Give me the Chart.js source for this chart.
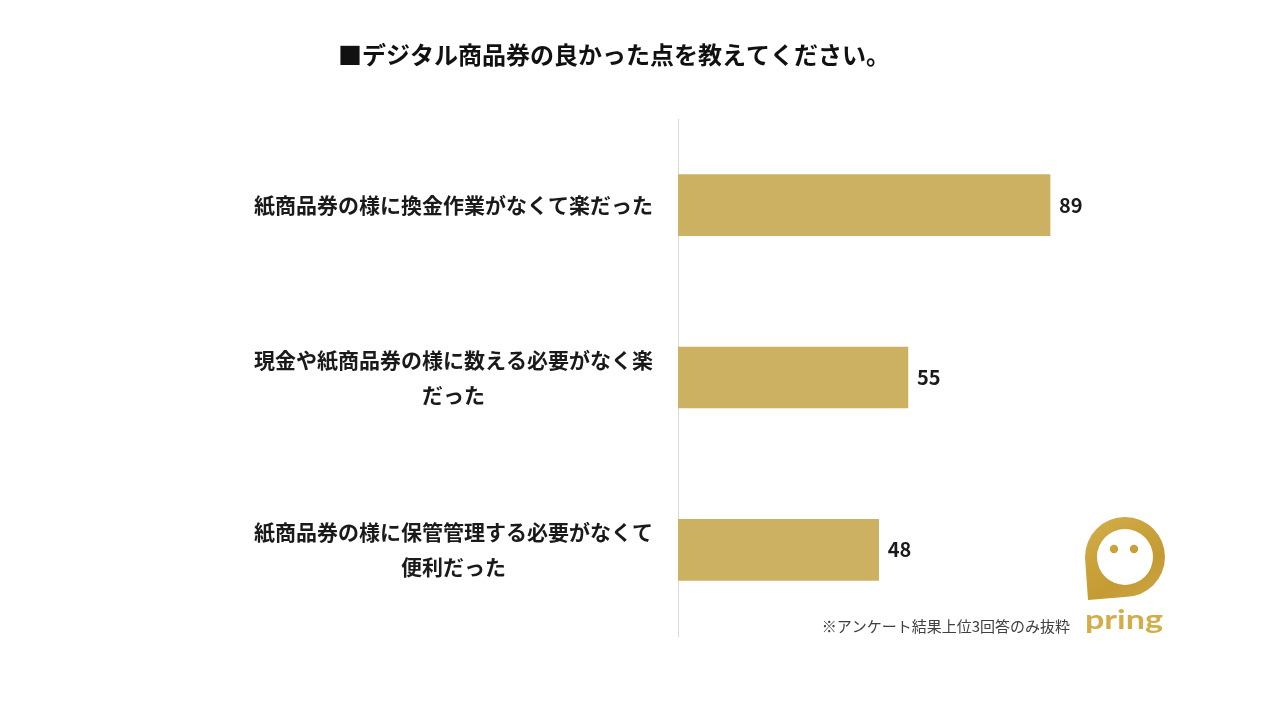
<!DOCTYPE html>
<html>
<head>
<meta charset="utf-8">
<script src="https://cdn.jsdelivr.net/npm/chart.js@4/dist/chart.umd.min.js"></script>
<style>
  html, body { margin: 0; padding: 0; background: #fff; }
  #wrap { width: 1280px; height: 720px; position: relative; }
</style>
</head>
<body>
<div id="wrap"><canvas id="barChart" width="1280" height="720"></canvas></div>
<script>
const chartTitle = '■デジタル商品券の良かった点を教えてください。';
const footNote = '※アンケート結果上位3回答のみ抜粋';
const categories = [
    ['紙商品券の様に換金作業がなくて楽だった'],
    ['現金や紙商品券の様に数える必要がなく楽', 'だった'],
    ['紙商品券の様に保管管理する必要がなくて', '便利だった']
];
const counts = [89, 55, 48];

const JP_FONT = '"Noto Sans CJK JP", "Noto Sans", sans-serif';
const GOLD = '#CCB162';

// title, footnote, value labels and the pring logo
const decorPlugin = {
    id: 'decor',
    afterDatasetsDraw(chart) {
        const ctx = chart.ctx;
        ctx.save();

        // value labels at bar ends
        const meta = chart.getDatasetMeta(0);
        ctx.font = `bold 20px ${JP_FONT}`;
        ctx.fillStyle = '#1a1a1a';
        ctx.textAlign = 'left';
        ctx.textBaseline = 'middle';
        meta.data.forEach((bar, i) => {
            ctx.fillText(String(counts[i]), bar.x + 9, bar.y);
        });

        // title
        ctx.font = `bold 24px ${JP_FONT}`;
        ctx.fillStyle = '#111';
        ctx.textAlign = 'center';
        ctx.fillText(chartTitle, 614, 55);

        // footnote
        ctx.font = `15px ${JP_FONT}`;
        ctx.fillStyle = '#404040';
        ctx.textAlign = 'right';
        ctx.fillText(footNote, 1070, 626);

        this.drawLogo(ctx);
        ctx.restore();
    },
    drawLogo(ctx) {
        const cx = 1125, cy = 557, r = 40, ri = 28;
        const grad = ctx.createLinearGradient(1085, 517, 1165, 640);
        grad.addColorStop(0, '#D2AE4A');
        grad.addColorStop(0.5, '#C49A33');
        grad.addColorStop(1, '#D6B55A');

        // bubble: circle with square bottom-left corner
        ctx.beginPath();
        ctx.moveTo(cx - r, cy);
        ctx.arc(cx, cy, r, Math.PI, Math.PI / 2, false);
        ctx.lineTo(cx - r + 3, cy + r + 3);
        ctx.closePath();
        ctx.moveTo(cx + ri, cy);
        ctx.arc(cx, cy, ri, 0, Math.PI * 2, true);
        ctx.fillStyle = grad;
        ctx.fill('evenodd');

        // eyes
        ctx.beginPath();
        ctx.arc(1114, 549, 4.2, 0, Math.PI * 2);
        ctx.arc(1134, 549, 4.2, 0, Math.PI * 2);
        ctx.fill();

        // wordmark
        ctx.font = `bold 27px Lato, "DejaVu Sans", sans-serif`;
        ctx.textAlign = 'left';
        ctx.textBaseline = 'alphabetic';
        const word = 'pring';
        const w = ctx.measureText(word).width;
        ctx.save();
        ctx.translate(1085, 629);
        ctx.scale(78 / w, 1);
        ctx.fillText(word, 0, 0);
        ctx.restore();
    }
};

new Chart(document.getElementById('barChart'), {
    type: 'bar',
    data: {
        labels: categories,
        datasets: [{
            data: counts,
            backgroundColor: GOLD,
            barThickness: 61
        }]
    },
    options: {
        indexAxis: 'y',
        responsive: false,
        animation: false,
        layout: { padding: { left: 0, right: 184, top: 119, bottom: 84 } },
        plugins: {
            legend: { display: false },
            tooltip: { enabled: false }
        },
        scales: {
            x: {
                display: false,
                min: 0,
                max: 100
            },
            y: {
                afterFit(scale) { scale.width = 678; },
                grid: { display: false, drawTicks: false },
                border: { display: true, color: '#d9d9d9', width: 1 },
                ticks: {
                    crossAlign: 'center',
                    padding: 25,
                    color: '#1a1a1a',
                    font: { family: JP_FONT, size: 21, weight: 'bold', lineHeight: 1.67 }
                }
            }
        }
    },
    plugins: [decorPlugin]
});
</script>
</body>
</html>
